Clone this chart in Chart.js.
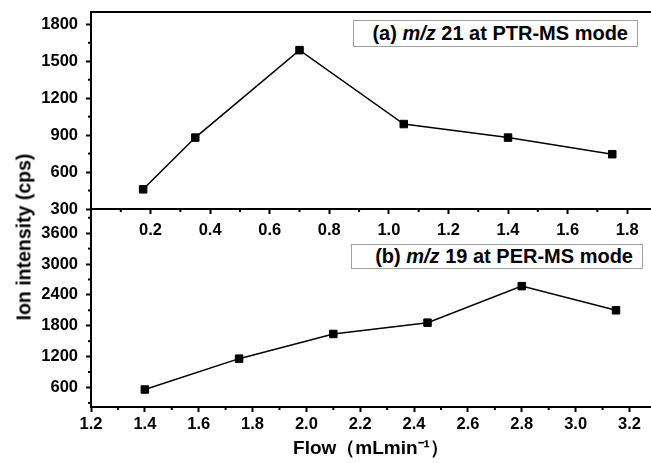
<!DOCTYPE html>
<html>
<head>
<meta charset="utf-8">
<script src="https://cdn.jsdelivr.net/npm/chart.js@4.4.1/dist/chart.umd.min.js"></script>
<style>
  body { margin: 0; background: #fff; }
  #wrap { position: relative; width: 651px; height: 463px; overflow: hidden; font-family: "Liberation Sans", Arial, sans-serif; }
  canvas { position: absolute; left: 0; top: 0; }
  .box { position: absolute; border: 1px solid #a0a0a0; background: #fff; font-weight: bold; font-size: 20px;
         text-align: right; padding-right: 9px; box-sizing: border-box; color: #000; white-space: nowrap; z-index: 2; }
  #ytitle { position: absolute; left: 24px; top: 237px; transform: translate(-50%, -50%) rotate(-90deg);
            font-weight: bold; font-size: 19.5px; white-space: nowrap; color: #000; z-index: 2; }
</style>
</head>
<body>
<div id="wrap">
  <canvas id="top" width="651" height="463"></canvas>
  <canvas id="bot" width="651" height="463"></canvas>
  <div class="box" style="left:353px; top:20px; width:285px; height:27px; line-height:25px;">(a) <i>m/z</i> 21 at PTR-MS mode</div>
  <div class="box" style="left:351px; top:244px; width:292px; height:25px; line-height:23px;">(b) <i>m/z</i> 19 at PER-MS mode</div>
  <div id="ytitle">Ion intensity (cps)</div>
</div>
<script>
// (a) m/z 21, PTR-MS mode
const flowA = [0.175, 0.35, 0.7, 1.05, 1.4, 1.75];
const ionA = [460, 880, 1590, 990, 880, 745];
// (b) m/z 19, PER-MS mode
const flowB = [1.4, 1.75, 2.1, 2.45, 2.8, 3.15];
const ionB = [560, 1160, 1640, 1860, 2570, 2100];

// labelled ticks
const xTicksA = [0.2, 0.4, 0.6, 0.8, 1.0, 1.2, 1.4, 1.6, 1.8];
const yTicksA = [300, 600, 900, 1200, 1500, 1800];
const xTicksB = [1.2, 1.4, 1.6, 1.8, 2.0, 2.2, 2.4, 2.6, 2.8, 3.0, 3.2];
const yTicksB = [600, 1200, 1800, 2400, 3000, 3600];

const font = 'Liberation Sans, Arial, sans-serif';
const tickFont = { family: font, size: 16.5, weight: 'bold' };

// short minor ticks halfway between the major ones
const minorTicks = {
    id: 'minorTicks',
    afterDraw(chart) {
        const ctx = chart.ctx;
        ctx.save();
        ctx.strokeStyle = '#000';
        ctx.lineWidth = 2;
        Object.values(chart.scales).forEach(s => {
            const vals = s.ticks.map(t => t.value);
            if (vals.length < 2) return;
            const step = vals[1] - vals[0];
            const mids = [vals[0] - step / 2].concat(vals.map(v => v + step / 2));
            mids.forEach(m => {
                if (m <= s.min || m >= s.max) return;
                const p = s.getPixelForValue(m);
                ctx.beginPath();
                if (s.isHorizontal()) {
                    ctx.moveTo(p, s.top);
                    ctx.lineTo(p, s.top + 3);
                } else {
                    ctx.moveTo(s.right, p);
                    ctx.lineTo(s.right - 3, p);
                }
                ctx.stroke();
            });
        });
        // frame line on top of the upper panel
        if (chart.canvas.id === 'top') {
            const a = chart.chartArea;
            ctx.beginPath();
            ctx.moveTo(a.left, a.top);
            ctx.lineTo(chart.width, a.top);
            ctx.stroke();
        }
        ctx.restore();
    }
};

function panel(id, xs, ys, opts) {
    return new Chart(document.getElementById(id), {
        type: 'scatter',
        data: {
            datasets: [{
                data: xs.map((x, i) => ({ x: x, y: ys[i] })),
                showLine: true,
                borderColor: '#000',
                borderWidth: 1.5,
                pointStyle: 'rect',
                pointRadius: 5.3,
                pointBackgroundColor: '#000',
                pointBorderColor: '#000',
                pointBorderWidth: 1
            }]
        },
        options: {
            responsive: false,
            animation: false,
            layout: { padding: opts.padding, autoPadding: false },
            plugins: { legend: { display: false }, tooltip: { enabled: false } },
            scales: {
                x: {
                    type: 'linear',
                    min: opts.xmin, max: opts.xmax,
                    border: { color: '#000', width: 2 },
                    grid: { drawOnChartArea: false, tickLength: 5, tickColor: '#000', tickWidth: 2 },
                    ticks: {
                        color: '#000', font: tickFont, padding: opts.xpad, maxRotation: 0, autoSkip: false,
                        callback: v => v.toFixed(1)
                    },
                    afterBuildTicks: s => { s.ticks = opts.xticks.map(v => ({ value: v })); },
                    title: opts.xtitle ? {
                        display: true, text: opts.xtitle, color: '#000',
                        font: { family: font, size: 19, weight: 'bold' }, padding: { top: 0, bottom: 3 }
                    } : { display: false },
                    afterFit: s => { s.height = opts.xh; s.paddingLeft = 0; s.paddingRight = 0; }
                },
                y: {
                    min: opts.ymin, max: opts.ymax,
                    border: { color: '#000', width: 2 },
                    grid: { drawOnChartArea: false, tickLength: 5, tickColor: '#000', tickWidth: 2 },
                    ticks: { color: '#000', font: tickFont, padding: 8, autoSkip: false, callback: v => String(v) },
                    afterBuildTicks: s => { s.ticks = opts.yticks.map(v => ({ value: v })); },
                    afterFit: s => { s.width = 91; s.paddingTop = 0; s.paddingBottom = 0; }
                }
            }
        },
        plugins: [minorTicks]
    });
}

panel('top', flowA, ionA, {
    padding: { top: 12, left: 0, right: 0, bottom: 224 },
    xmin: 0, xmax: 1.88, xpad: 7, xh: 30, xticks: xTicksA,
    ymin: 300, ymax: 1900, yticks: yTicksA
});

panel('bot', flowB, ionB, {
    padding: { top: 209, left: 0, right: 0, bottom: 0 },
    xmin: 1.2, xmax: 3.28, xpad: 3, xh: 56, xticks: xTicksB, xtitle: 'Flow\uFF08mLmin\u207B\u00B9\uFF09',
    ymin: 220, ymax: 4070, yticks: yTicksB
});
</script>
</body>
</html>
